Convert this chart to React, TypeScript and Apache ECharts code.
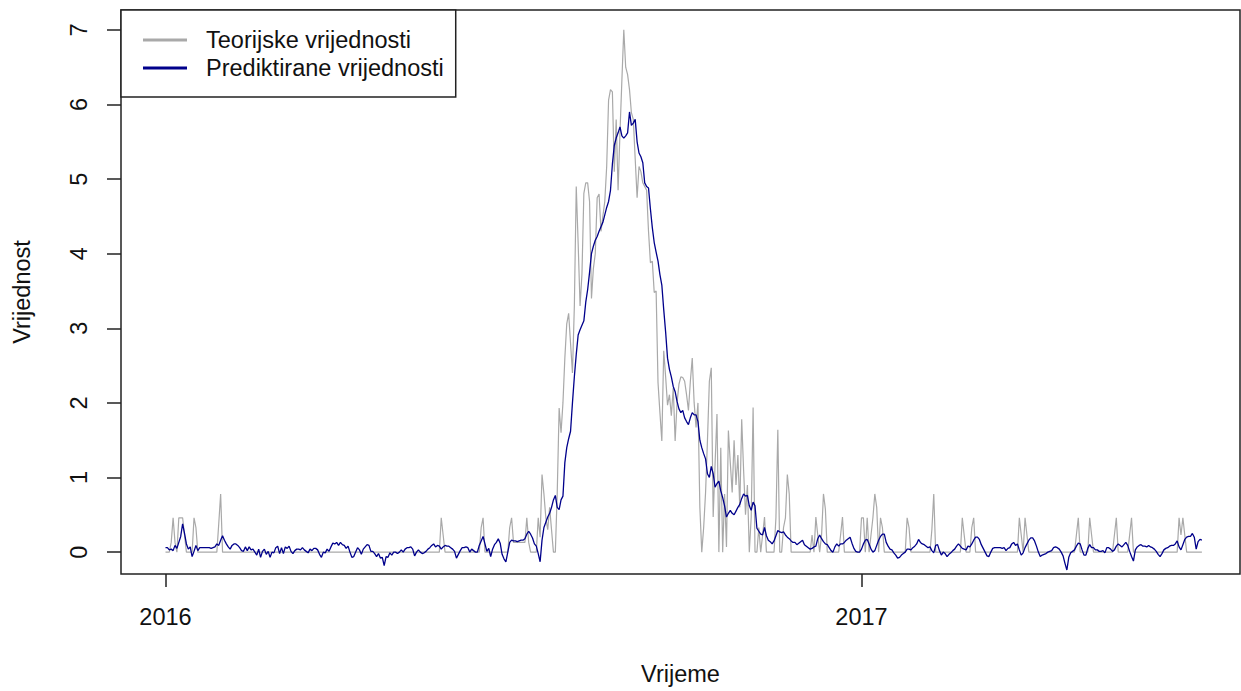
import React, { useEffect, useRef } from "react";
import * as echarts from "echarts";

// Day index 0 = 2016-01-01 (daily data through 2017-06-29)
const xTickDays = [0, 366];
const xTickLabels = ["2016", "2017"];
const yTickValues = [0, 1, 2, 3, 4, 5, 6, 7];
const seriesNames = ["Teorijske vrijednosti", "Prediktirane vrijednosti"];
const xTitle = "Vrijeme";
const yTitle = "Vrijednost";

const grayValues = [
  0, 0, 0, 0.13, 0.46, 0.13, 0, 0.46, 0.46, 0.46, 0.23, 0, 0, 0, 0, 0.46, 0.33, 0, 0, 0,
  0, 0, 0, 0, 0, 0, 0, 0, 0.38, 0.78, 0, 0, 0, 0, 0, 0, 0, 0, 0, 0,
  0, 0, 0, 0, 0, 0, 0, 0, 0, 0, 0, 0, 0, 0, 0, 0, 0, 0, 0, 0,
  0, 0, 0, 0, 0, 0, 0, 0, 0, 0, 0, 0, 0, 0, 0, 0, 0, 0, 0, 0,
  0, 0, 0, 0, 0, 0, 0, 0, 0, 0, 0, 0, 0, 0, 0, 0, 0, 0, 0, 0,
  0, 0, 0, 0, 0, 0, 0, 0, 0, 0, 0, 0, 0, 0, 0, 0, 0, 0, 0, 0,
  0, 0, 0, 0, 0, 0, 0, 0, 0, 0, 0, 0, 0, 0, 0, 0, 0, 0, 0, 0,
  0, 0, 0, 0, 0, 0.46, 0.23, 0, 0, 0, 0, 0, 0, 0, 0, 0, 0, 0, 0, 0,
  0, 0, 0, 0, 0, 0, 0.33, 0.46, 0, 0, 0, 0, 0, 0, 0, 0, 0, 0, 0, 0,
  0, 0.33, 0.46, 0.13, 0.13, 0.13, 0.13, 0.13, 0.13, 0.13, 0.46, 0.13, 0, 0, 0, 0, 0.46, 0.2, 1.04, 0.78,
  0.46, 0.3, 0.6, 0.3, 0, 0, 0.8, 1.93, 1.6, 2.0, 2.6, 3.06, 3.2, 2.8, 2.4, 3.3, 4.9, 4.14, 3.3, 3.73,
  4.81, 4.95, 4.95, 4.7, 3.4, 3.8, 4.0, 4.75, 4.8, 4.3, 4.5, 4.7, 5.17, 6.06, 6.2, 6.17, 5.1, 5.8, 4.85, 5.63,
  6.33, 7.0, 6.5, 6.4, 6.2, 5.89, 5.8, 5.27, 4.75, 5.17, 5.1, 4.95, 4.9, 4.85, 4.3, 3.88, 3.9, 3.48, 3.5, 2.27,
  1.87, 1.49, 2.7, 2.35, 1.97, 2.11, 1.83, 2.2, 1.49, 2.0, 2.25, 2.35, 2.34, 2.29, 2.11, 1.9, 2.29, 2.6, 2.0, 1.67,
  2.0, 0.6, 0, 0.33, 0.8, 1.5, 2.29, 2.47, 0.47, 1.18, 1.85, 0, 1.4, 0, 0.78, 0.07, 1.63, 1.2, 0.8, 1.5,
  0.9, 1.3, 0.6, 1.78, 1.1, 0.5, 0.9, 0, 0.47, 1.94, 0, 0, 0.33, 0, 0.23, 0.47, 0, 0, 0, 0,
  0, 0.46, 1.64, 0, 0, 0.33, 0.46, 1.04, 0.78, 0, 0, 0, 0, 0, 0, 0, 0, 0, 0, 0,
  0.23, 0, 0.47, 0.23, 0, 0.23, 0.78, 0.58, 0, 0, 0, 0, 0, 0, 0, 0.23, 0.47, 0, 0, 0,
  0, 0, 0, 0, 0, 0, 0.46, 0.46, 0, 0.46, 0, 0.23, 0.46, 0.78, 0.6, 0, 0.46, 0.33, 0, 0,
  0, 0, 0, 0, 0, 0, 0, 0, 0, 0, 0.46, 0.33, 0, 0, 0, 0, 0, 0, 0, 0,
  0, 0, 0, 0.3, 0.78, 0, 0, 0, 0, 0, 0, 0, 0, 0, 0, 0, 0, 0, 0, 0.46,
  0.23, 0, 0, 0, 0.33, 0.46, 0, 0, 0, 0, 0, 0, 0, 0, 0, 0, 0, 0, 0, 0,
  0, 0, 0, 0, 0, 0, 0, 0, 0, 0.46, 0.23, 0, 0.46, 0.23, 0, 0, 0, 0, 0, 0,
  0, 0, 0, 0, 0, 0, 0, 0, 0, 0, 0, 0, 0, 0, 0, 0, 0, 0, 0, 0.23,
  0.46, 0, 0, 0, 0, 0, 0.46, 0.23, 0, 0, 0, 0, 0, 0, 0, 0, 0, 0, 0, 0.23,
  0.46, 0, 0, 0, 0, 0, 0, 0.23, 0.46, 0, 0, 0, 0, 0, 0, 0, 0, 0, 0, 0,
  0, 0, 0, 0, 0, 0, 0, 0, 0, 0, 0, 0, 0, 0.46, 0.23, 0.46, 0.23, 0, 0, 0,
  0, 0, 0, 0, 0, 0,
];

const blueValues = [
  0.06, 0.06, 0.03, 0.04, 0.02, 0.09, 0.05, 0.13, 0.21, 0.38, 0.25, 0.11, 0.04, 0.07, -0.06, 0.01, 0.09, 0.02, 0.06, 0.06,
  0.06, 0.06, 0.06, 0.06, 0.05, 0.06, 0.07, 0.11, 0.09, 0.16, 0.22, 0.16, 0.11, 0.07, 0.04, 0.09, 0.11, 0.11, 0.09, 0.06,
  0.02, 0.01, 0.07, 0.02, 0.07, 0.03, 0.04, 0, -0.04, 0.04, -0.07, 0.01, 0.04, -0.03, 0.01, -0.07, 0, -0.01, 0.06, 0.08,
  -0.02, 0.06, -0.02, 0.07, 0.05, 0.08, 0.01, -0.02, 0.02, 0.04, 0.04, 0.03, 0.06, 0.03, 0.01, -0.01, 0.04, 0.02, 0.05, 0.05,
  0.03, -0.03, -0.07, 0, -0.01, 0.04, 0.01, 0.07, 0.12, 0.11, 0.13, 0.09, 0.13, 0.1, 0.09, 0.05, 0.08, 0, -0.07, -0.06,
  0, 0.06, 0.03, -0.03, 0.04, 0.07, 0.1, 0.09, 0.01, 0.01, -0.02, -0.06, -0.02, -0.08, -0.07, -0.18, -0.06, -0.07, -0.01, -0.04,
  0, 0, -0.02, 0, 0.03, 0, 0.04, 0.06, 0.06, 0.07, 0.04, -0.05, 0, 0.03, 0, -0.02, -0.01, 0.01, 0.04, 0.06,
  0.09, 0.11, 0.07, 0.09, 0.08, 0.04, 0.07, 0.09, 0.08, 0.08, 0.06, 0.04, 0.01, -0.08, -0.03, 0.02, 0.06, 0.06, 0.07, 0.06,
  0, 0.04, 0.02, 0, 0, 0.09, 0.15, 0.21, 0.11, 0.01, 0.05, -0.06, 0.04, 0.1, 0.13, 0.18, 0.12, -0.03, -0.09, -0.13,
  0, 0.13, 0.16, 0.15, 0.15, 0.14, 0.15, 0.16, 0.16, 0.18, 0.24, 0.28, 0.24, 0.19, 0.11, 0.08, -0.02, -0.13, 0.16, 0.33,
  0.4, 0.47, 0.52, 0.6, 0.7, 0.76, 0.6, 0.57, 0.7, 0.75, 1.2, 1.4, 1.52, 1.62, 2.0, 2.35, 2.65, 2.91, 2.98, 3.04,
  3.1, 3.35, 3.52, 3.75, 4.0, 4.1, 4.18, 4.23, 4.3, 4.36, 4.42, 4.52, 4.62, 4.7, 4.85, 5.2, 5.45, 5.55, 5.62, 5.7,
  5.58, 5.55, 5.58, 5.62, 5.9, 5.72, 5.75, 5.8, 5.5, 5.35, 5.3, 5.22, 4.95, 4.9, 4.88, 4.6, 4.35, 4.15, 4.02, 3.9,
  3.72, 3.58, 3.25, 2.95, 2.6, 2.45, 2.35, 2.22, 2.15, 2.02, 1.92, 1.87, 1.9, 1.8, 1.75, 1.71, 1.8, 1.87, 1.84, 1.84,
  1.75, 1.5, 1.4, 1.32, 1.25, 1.05, 1.0, 1.15, 1.05, 0.87, 0.92, 0.95, 0.82, 0.73, 0.62, 0.47, 0.52, 0.56, 0.52, 0.5,
  0.55, 0.6, 0.64, 0.72, 0.78, 0.75, 0.76, 0.62, 0.56, 0.67, 0.62, 0.32, 0.28, 0.24, 0.23, 0.33, 0.22, 0.16, 0.14, 0.11,
  0.15, 0.22, 0.29, 0.27, 0.26, 0.27, 0.23, 0.2, 0.18, 0.15, 0.13, 0.13, 0.1, 0.12, 0.14, 0.16, 0.1, 0.08, 0.06, 0.04,
  0.05, 0.07, 0.08, 0.18, 0.23, 0.18, 0.14, 0.11, 0.1, 0.06, 0.02, 0, 0.07, 0.11, 0.08, 0.11, 0.11, 0.13, 0.16, 0.18,
  0.2, 0.12, 0.05, 0.01, 0, 0, 0.04, 0.11, 0.16, 0.17, 0.11, 0.04, 0, 0.02, 0.09, 0.16, 0.21, 0.24, 0.24, 0.13,
  0.08, 0.04, 0.03, -0.01, -0.04, -0.08, -0.07, -0.04, -0.02, 0, 0.04, 0.04, 0.03, 0.06, 0.08, 0.11, 0.17, 0.13, 0.11, 0.1,
  0.08, 0.06, 0.07, 0.02, -0.01, 0.09, 0.1, 0.02, -0.04, 0, -0.02, -0.06, -0.03, -0.01, 0.02, 0.04, 0.08, 0.11, 0.08, 0.05,
  0.04, 0.03, 0.08, 0.07, 0.11, 0.16, 0.2, 0.2, 0.17, 0.1, 0.05, 0, -0.05, -0.06, 0, 0.05, 0.06, 0.06, 0.06, 0.06,
  0.05, 0.06, 0.02, 0.05, 0.06, 0.11, 0.13, 0.09, 0.11, 0.03, -0.04, -0.01, 0.06, 0.11, 0.16, 0.19, 0.19, 0.15, 0.08, 0,
  -0.06, -0.04, -0.03, -0.02, 0, 0.01, 0.02, 0.06, 0.07, 0.06, 0.04, 0, -0.05, -0.15, -0.24, -0.07, -0.01, 0.01, 0.03, 0.08,
  0.12, 0.11, 0.03, -0.04, -0.04, 0.05, 0.1, 0.06, 0.06, 0.03, 0.03, 0.01, 0.01, 0.02, -0.01, 0.06, 0.06, 0.04, 0.01, 0.03,
  0.08, 0.11, 0.09, 0.07, 0.1, 0.13, 0.09, 0.01, -0.06, -0.12, 0.03, 0.07, 0.09, 0.1, 0.08, 0.08, 0.07, 0.09, 0.07, 0.06,
  0.04, 0.01, -0.03, -0.06, -0.02, 0.03, 0.05, 0.06, 0.08, 0.09, 0.09, 0.11, 0.15, 0.07, 0.03, 0.1, 0.17, 0.2, 0.21, 0.21,
  0.25, 0.2, 0.04, 0.14, 0.17, 0.16,
];

const FONT = "'Liberation Sans', Arial, Helvetica, sans-serif";
const TEXT_COLOR = "#111";
const FRAME_COLOR = "#222";
const GRAY = "#a9a9a9";
const BLUE = "#00008b";

export default function App() {
  const ref = useRef<HTMLDivElement>(null);

  useEffect(() => {
    if (!ref.current) return;
    const chart = echarts.init(ref.current, null, { renderer: "svg" });

    const plotLeft = 121;
    const plotRight = 1240;
    const tickLeftPx = 165.5;
    const pxPerDay = 696 / 366;
    const xMin = -(tickLeftPx - plotLeft) / pxPerDay;
    const xMax = (plotRight - tickLeftPx) / pxPerDay;

    const option: any = {
      animation: false,
      backgroundColor: "#ffffff",
      textStyle: { fontFamily: FONT },
      grid: {
        left: plotLeft,
        top: 10,
        width: plotRight - plotLeft,
        height: 567,
        show: true,
        borderColor: FRAME_COLOR,
        borderWidth: 1.5,
        backgroundColor: "transparent",
        containLabel: false,
      },
      legend: {
        left: plotLeft,
        top: 10,
        orient: "vertical",
        padding: [16, 12, 15, 22],
        itemGap: 0,
        itemWidth: 44,
        itemHeight: 3,
        icon: "rect",
        borderColor: FRAME_COLOR,
        borderWidth: 1.5,
        borderRadius: 0,
        backgroundColor: "#ffffff",
        z: 10,
        textStyle: {
          fontSize: 23.5,
          fontFamily: FONT,
          color: TEXT_COLOR,
          lineHeight: 28,
          padding: [0, 0, 0, 14],
        },
        data: seriesNames,
      },
      xAxis: {
        type: "value",
        min: xMin,
        max: xMax,
        name: xTitle,
        nameLocation: "middle",
        nameGap: 88,
        nameTextStyle: { fontSize: 23.5, fontFamily: FONT, color: TEXT_COLOR },
        axisLine: { show: false, onZero: false },
        splitLine: { show: false },
        axisTick: {
          show: true,
          customValues: xTickDays,
          length: 13,
          lineStyle: { color: FRAME_COLOR, width: 1.5 },
        },
        axisLabel: {
          customValues: xTickDays,
          formatter: (v: number) => {
            const i = xTickDays.indexOf(Math.round(v));
            return i >= 0 ? xTickLabels[i] : "";
          },
          margin: 31,
          fontSize: 23.5,
          fontFamily: FONT,
          color: TEXT_COLOR,
        },
      },
      yAxis: {
        type: "value",
        min: -22 / 75,
        max: 7 + 20 / 75,
        name: yTitle,
        nameLocation: "middle",
        nameGap: 87,
        nameTextStyle: { fontSize: 23.5, fontFamily: FONT, color: TEXT_COLOR },
        axisLine: { show: false, onZero: false },
        splitLine: { show: false },
        axisTick: {
          show: true,
          customValues: yTickValues,
          length: 14,
          lineStyle: { color: FRAME_COLOR, width: 1.5 },
        },
        axisLabel: {
          customValues: yTickValues,
          rotate: 90,
          margin: 30,
          fontSize: 23.5,
          fontFamily: FONT,
          color: TEXT_COLOR,
          formatter: (v: number) => String(Math.round(v)),
        },
      },
      series: [
        {
          type: "line",
          name: seriesNames[0],
          data: grayValues.map((v, i) => [i, v]),
          symbol: "none",
          showSymbol: false,
          color: GRAY,
          lineStyle: { color: GRAY, width: 1.2 },
          z: 2,
        },
        {
          type: "line",
          name: seriesNames[1],
          data: blueValues.map((v, i) => [i, v]),
          symbol: "none",
          showSymbol: false,
          color: BLUE,
          lineStyle: { color: BLUE, width: 1.3 },
          z: 3,
        },
      ],
    };

    chart.setOption(option);
    return () => {
      chart.dispose();
    };
  }, []);

  return (
    <div
      ref={ref}
      style={{ position: "absolute", left: 0, top: 0, width: 1241, height: 691, background: "#fff" }}
    />
  );
}
